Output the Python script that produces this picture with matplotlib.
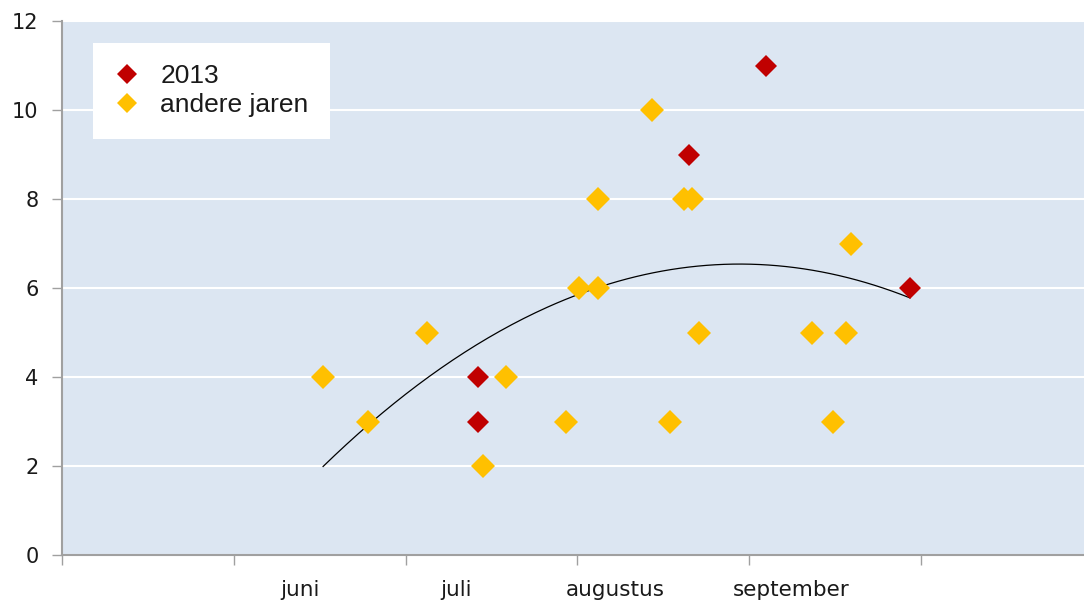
import matplotlib

matplotlib.use("Agg")
import matplotlib.pyplot as plt
import numpy as np
from matplotlib.lines import Line2D

# day-of-year style x values
x_2013 = [192.6, 192.6, 229.5, 242.9, 268.1]
y_2013 = [4, 3, 9, 11, 6]

x_other = [165.6, 173.4, 183.7, 193.5, 197.5, 208.0, 210.3, 213.6, 213.6,
           223.0, 226.2, 228.6, 230.0, 231.2, 251.0, 254.6, 256.9, 257.8]
y_other = [4, 3, 5, 2, 4, 3, 6, 6, 8,
           10, 3, 8, 8, 5, 5, 3, 5, 7]

month_bounds = [120, 150, 180, 210, 240, 270]
month_label_pos = [161.6, 188.8, 216.6, 247.3]
month_labels = ["juni", "juli", "augustus", "september"]

RED = "#C00000"
YELLOW = "#FFC000"
BG = "#DCE6F2"
AXIS = "#A0A0A0"
TEXT = "#1a1a1a"

fig = plt.figure(figsize=(10.84, 6.04), dpi=100)
ax = fig.add_axes([62 / 1084, 49 / 604, 1022 / 1084, 534 / 604])
ax.set_facecolor(BG)

ax.set_xlim(120, 298.5)
ax.set_ylim(0, 12)
ax.set_yticks(range(0, 13, 2))
ax.grid(True, axis="y", color="white", linewidth=1.5)
ax.set_axisbelow(True)

# polynomial (order 2) trendline over all points
x_all = np.array(x_2013 + x_other)
y_all = np.array(y_2013 + y_other)
coef = np.polyfit(x_all, y_all, 2)
xs = np.linspace(x_all.min(), x_all.max(), 200)
ax.plot(xs, np.polyval(coef, xs), color="black", linewidth=0.9, zorder=2)

ax.plot(x_other, y_other, linestyle="none", marker="D", markersize=12,
        color=YELLOW, markeredgewidth=0, zorder=3)
ax.plot(x_2013, y_2013, linestyle="none", marker="D", markersize=11,
        color=RED, markeredgewidth=0, zorder=4)

for side in ["top", "right"]:
    ax.spines[side].set_visible(False)
for side in ["left", "bottom"]:
    ax.spines[side].set_color(AXIS)
    ax.spines[side].set_linewidth(1.5)

ax.set_xticks(month_bounds)
ax.set_xticklabels([])
ax.set_xticks(month_label_pos, minor=True)
ax.set_xticklabels(month_labels, minor=True, fontsize=15.5, family="DejaVu Sans", color=TEXT)
ax.tick_params(axis="x", which="major", length=7, width=1, color=AXIS, direction="out")
ax.tick_params(axis="x", which="minor", length=0, pad=18)
ax.tick_params(axis="y", length=7, width=1, color=AXIS, labelsize=15, pad=10,
               labelcolor=TEXT)

handles = [
    Line2D([], [], linestyle="none", marker="D", markersize=10, color=RED, markeredgewidth=0),
    Line2D([], [], linestyle="none", marker="D", markersize=10, color=YELLOW, markeredgewidth=0),
]
leg = ax.legend(handles, ["2013", "andere jaren"], loc="upper left",
                bbox_to_anchor=(31 / 1022, 1 - 22 / 534), borderaxespad=0,
                frameon=True, fancybox=False, framealpha=1,
                edgecolor="white", facecolor="white",
                prop={"family": "Liberation Sans", "size": 19},
                handletextpad=0.75, labelspacing=0.2, borderpad=0.8, handlelength=1.0)
leg.get_frame().set_linewidth(0)
for t in leg.get_texts():
    t.set_color(TEXT)

fig.savefig("out.png", dpi=100)
plt.close(fig)
